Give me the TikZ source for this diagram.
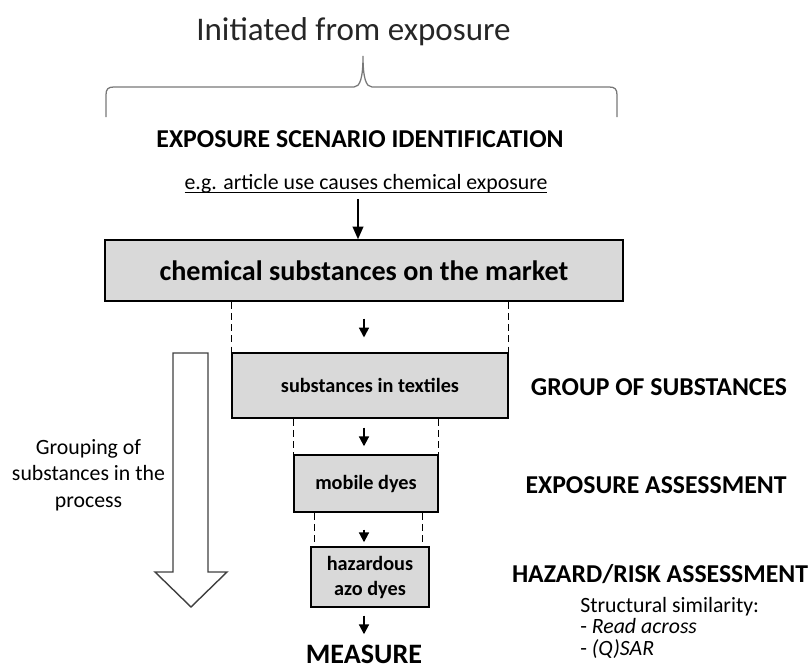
\documentclass[tikz,border=0pt]{standalone}
\usepackage{fontspec}
\setmainfont{Carlito}
\usetikzlibrary{arrows.meta}
\definecolor{boxgray}{RGB}{217,217,217}
\definecolor{bracegray}{RGB}{120,120,120}
\definecolor{arrowgray}{RGB}{64,64,64}
\newcommand\ulined[1]{\setbox0\hbox{#1}\rlap{\vrule height -2.0pt depth 2.9pt width \wd0}\box0}

\begin{document}
\begin{tikzpicture}[
    x=0.025cm, y=-0.025cm,
    box/.style={rectangle, draw=black, line width=1pt, fill=boxgray, align=center, inner sep=0pt},
    head/.style={font=\bfseries\fontsize{18.3}{22}\selectfont, anchor=base},
    note/.style={font=\fontsize{15.5}{19}\selectfont},
    guide/.style={line width=1pt, dash pattern=on 5pt off 3pt},
    flow/.style={-{Triangle[length=7pt, width=7pt]}, line width=1.4pt},
    mainflow/.style={-{Triangle[length=9pt, width=7.5pt]}, line width=1.4pt}
]
    \useasboundingbox (0,0) rectangle (812,671);

    % Starting point
    \node[font=\fontsize{23.5}{28}\selectfont, text=black!85, anchor=base] (init) at (353.5,40) {Initiated from exposure};
    \draw[bracegray, line width=0.9pt] (106,117) -- (106,95) .. controls (106,89) and (108,87) .. (114,87)
        -- (354,87) .. controls (360,87) and (363,78) .. (363,56) .. controls (363,78) and (366,87) .. (372,87)
        -- (609,87) .. controls (615,87) and (617,89) .. (617,95) -- (617,117);
    \node[head] (scenario) at (360,147) {EXPOSURE SCENARIO IDENTIFICATION};
    \node[note, anchor=base] (eg) at (366,189) {\ulined{e.g. article use causes chemical exposure}};

    % Narrowing steps
    \node[box, minimum width=12.95cm, minimum height=1.525cm, font=\bfseries\fontsize{20}{24}\selectfont] (market) at (364,270.5) {chemical substances on the market};
    \node[box, minimum width=6.9cm, minimum height=1.625cm, font=\bfseries\fontsize{14.4}{17}\selectfont] (textiles) at (370,385.5) {substances in textiles};
    \node[box, minimum width=3.6cm, minimum height=1.425cm, font=\bfseries\fontsize{14.4}{17}\selectfont] (mobile) at (366,483.5) {mobile dyes};
    \node[box, minimum width=2.95cm, minimum height=1.5cm, font=\bfseries\fontsize{14.4}{17.8}\selectfont] (azo) at (370,577) {hazardous\\azo dyes};
    \node[font=\bfseries\fontsize{20}{24}\selectfont, anchor=base, inner sep=0pt] (measure) at (364,663) {MEASURE};

    % Arrows
    \draw[mainflow, shorten <=1pt] ([xshift=-0.15cm]market.north |- eg.south) -- ([xshift=-0.15cm]market.north);
    \draw[flow, shorten <=0.42cm, shorten >=0.37cm] (market.south) -- (market.south |- textiles.north);
    \draw[flow, shorten <=0.22cm, shorten >=0.2cm] (market.south |- textiles.south) -- (market.south |- mobile.north);
    \draw[flow, shorten <=0.42cm, shorten >=0.1cm] (market.south |- mobile.south) -- (market.south |- azo.north);
    \draw[flow, shorten <=0.2cm, shorten >=0.25cm] (market.south |- azo.south) -- (measure.north);

    % Dashed guides
    \draw[guide] (textiles.north west |- market.south) -- (textiles.north west);
    \draw[guide] (textiles.north east |- market.south) -- (textiles.north east);
    \draw[guide] (mobile.north west |- textiles.south) -- (mobile.north west);
    \draw[guide] (mobile.north east |- textiles.south) -- (mobile.north east);
    \draw[guide] ([xshift=0.1cm]azo.north west |- mobile.south) -- ([xshift=0.1cm]azo.north west);
    \draw[guide] ([xshift=-0.175cm]azo.north east |- mobile.south) -- ([xshift=-0.175cm]azo.north east);

    % Grouping arrow
    \draw[arrowgray, fill=white, line width=1pt] (173,353) -- (208,353) -- (208,572) -- (227,572)
        -- (191,607) -- (155,572) -- (173,572) -- cycle;
    \node[note, align=center] (grouping) at (88.5,475) {Grouping of\\substances in the\\process};

    % Stage labels
    \node[head] (group) at (659,395) {GROUP OF SUBSTANCES};
    \node[head] (expo) at (656,493) {EXPOSURE ASSESSMENT};
    \node[head] (hazard) at (660,582) {HAZARD/RISK ASSESSMENT};
    \node[font=\fontsize{15.5}{15.3}\selectfont, align=left, anchor=north west, inner sep=0pt] (similar) at (580,597)
        {Structural similarity:\\- \textit{Read across}\\- \textit{(Q)SAR}};
\end{tikzpicture}
\end{document}
